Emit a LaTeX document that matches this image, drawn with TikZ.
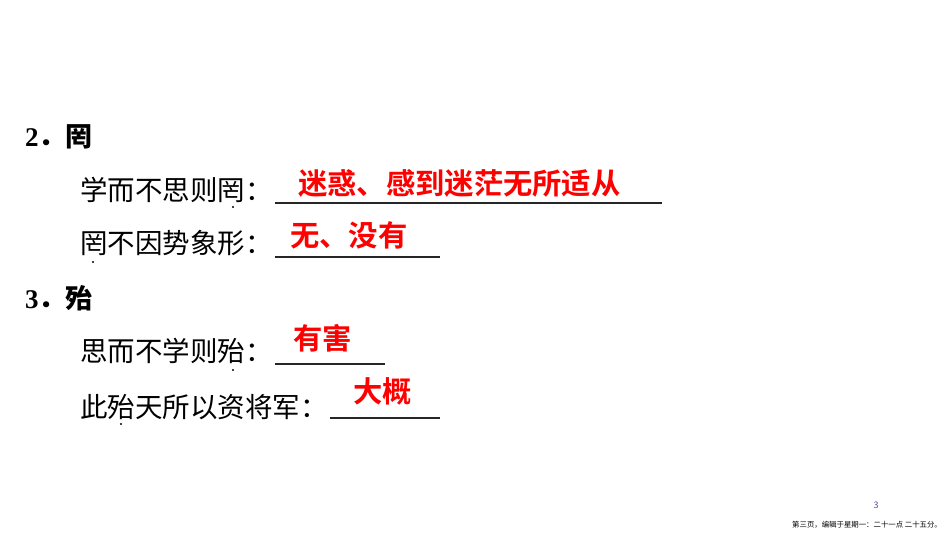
\documentclass[tikz,border=0pt]{standalone}
\usepackage{fontspec}
\setmainfont{Liberation Serif}
\newfontfamily\cjk{Noto Sans CJK SC}
\newfontfamily\cjkb{Noto Sans CJK SC Bold}
\begin{document}
\begin{tikzpicture}[x=1pt,y=-1pt,
  body/.style={anchor=west,inner sep=0pt,font=\fontsize{27.5}{27.5}\selectfont\cjk},
  head/.style={anchor=west,inner sep=0pt,font=\fontsize{27}{27}\selectfont\bfseries},
  ans/.style={anchor=west,inner sep=0pt,text=red,font=\fontsize{29.3}{29.3}\selectfont\cjkb},
  blank/.style={line width=1.6pt,black!85},
  emdot/.style={fill=black,circle,inner sep=0pt,minimum size=2.4pt}]
\useasboundingbox (0,0) rectangle (950,535);
\fill[white] (0,0) rectangle (950,535);
% item 2
\node[head] (h2) at (25,137) {2{\cjkb ．罔}};
\node[body] (l1) at (80,190) {学而不思则罔：};
\node[emdot] (d1) at (233,207) {};
\coordinate (u1a) at (275,203); \coordinate (u1b) at (662,203);
\draw[blank] (u1a) -- (u1b);
\node[ans] (a1) at (298,183) {迷惑、感到迷茫无所适从};
\node[body] (l2) at (80,243) {罔不因势象形：};
\node[emdot] (d2) at (93,262) {};
\coordinate (u2a) at (275,257); \coordinate (u2b) at (440,257);
\draw[blank] (u2a) -- (u2b);
\node[ans] (a2) at (290,235) {无、没有};
% item 3
\node[head] (h3) at (25,298) {3{\cjkb ．殆}};
\node[body] (l3) at (80,351) {思而不学则殆：};
\node[emdot] (d3) at (233,370) {};
\coordinate (u3a) at (275,364); \coordinate (u3b) at (385,364);
\draw[blank] (u3a) -- (u3b);
\node[ans] (a3) at (293,338) {有害};
\node[body] (l4) at (80,407) {此殆天所以资将军：};
\node[emdot] (d4) at (121,424) {};
\coordinate (u4a) at (330,418); \coordinate (u4b) at (440,418);
\draw[blank] (u4a) -- (u4b);
\node[ans] (a4) at (353,391) {大概};
% footer
\node[inner sep=0pt,text=blue!40!gray,font=\fontsize{9}{9}\selectfont\cjk] (pg) at (876,505) {3};
\node[anchor=west,inner sep=0pt,font=\fontsize{7.4}{7.4}\selectfont\cjk] (ft) at (792,525) {第三页，编辑于星期一：二十一点 二十五分。};
\end{tikzpicture}
\end{document}
